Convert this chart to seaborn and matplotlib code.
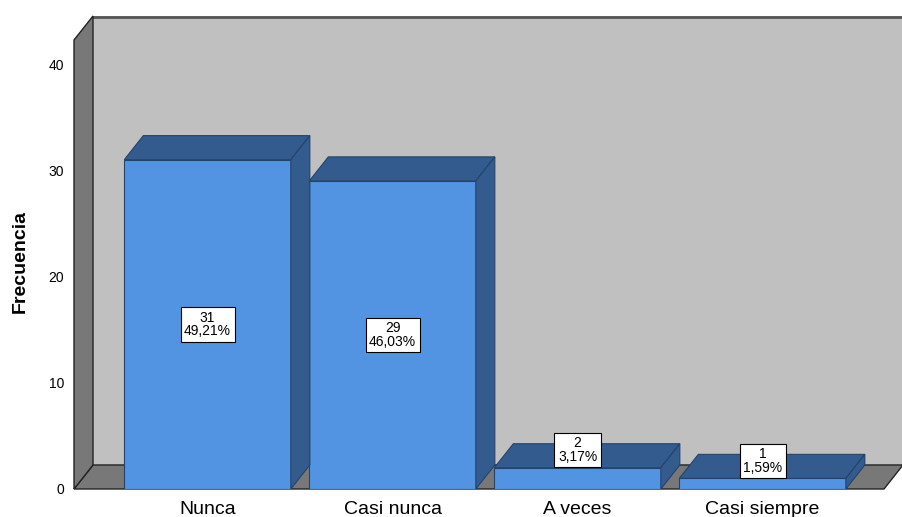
import matplotlib
matplotlib.use("Agg")
import matplotlib.pyplot as plt
import seaborn as sns
import pandas as pd

categories = ["Nunca", "Casi nunca", "A veces", "Casi siempre"]
counts = [31, 29, 2, 1]
percents = ["49,21%", "46,03%", "3,17%", "1,59%"]

sns.set_theme(style="white")
plt.rcParams["font.family"] = ["Liberation Sans", "DejaVu Sans"]

FRONT = "#5294E2"
DARK = "#335B8E"
EDGE = "#24436B"
WALL = "#787878"
BACK = "#C0C0C0"

fig = plt.figure(figsize=(9.03, 5.17), dpi=100)
ax = fig.add_axes([74 / 903, 28 / 517, 829 / 903, 473 / 517])

df = pd.DataFrame({"cat": categories, "n": counts})
sns.barplot(data=df, x="cat", y="n", color=FRONT, saturation=1, width=0.9,
            edgecolor=EDGE, linewidth=0.8, ax=ax, zorder=3)

# depth offsets of the pseudo-3D box (data units)
dx, dy = 0.1027, 2.26
x0, x1 = -0.722, 3.759
ytop = 44.52
ax.set_xlim(x0, x1)
ax.set_ylim(0, ytop)

# back wall, floor and left wall
ax.fill([x0 + dx, x1 + 0.5, x1 + 0.5, x0 + dx], [dy, dy, ytop, ytop],
        color=BACK, zorder=0, lw=0)
ax.plot([x0 + dx, x1 + 0.5], [ytop - 0.12, ytop - 0.12], color="#555555", lw=2, zorder=1, clip_on=False)
ax.fill([x0, x0 + dx, x1, x1 - dx], [0, dy, dy, 0], facecolor=WALL,
        edgecolor="#222222", lw=1, zorder=1, clip_on=False)
ax.fill([x0, x0 + dx, x0 + dx, x0], [0, dy, ytop, ytop - dy], facecolor=WALL,
        edgecolor="#222222", lw=1, zorder=1, clip_on=False)

# top and side faces of each bar, plus value labels
for i, p in enumerate(ax.patches[:len(counts)]):
    bx, w, h = p.get_x(), p.get_width(), p.get_height()
    ax.fill([bx, bx + dx, bx + w + dx, bx + w], [h, h + dy, h + dy, h],
            facecolor=DARK, edgecolor=EDGE, lw=0.8, zorder=4)
    ax.fill([bx + w, bx + w + dx, bx + w + dx, bx + w], [0, dy, h + dy, h],
            facecolor=DARK, edgecolor=EDGE, lw=0.8, zorder=4)
    ly = h / 2 if h / 2 > 3 else h + 1.65
    ax.text(bx + w / 2, ly, f"{counts[i]}\n{percents[i]}", ha="center", va="center",
            fontsize=10, linespacing=0.95, color="black", zorder=6,
            bbox=dict(boxstyle="square,pad=0.25", facecolor="white", edgecolor="black", lw=0.8))

ax.set_yticks([0, 10, 20, 30, 40])
ax.tick_params(axis="y", length=0, pad=7, labelsize=10, colors="black")
ax.tick_params(axis="x", length=0, pad=9, labelsize=14, colors="black")
ax.set_xlabel("")
ax.set_ylabel("Frecuencia", fontsize=14, fontweight="bold", color="black")
ax.yaxis.set_label_coords(-0.054, 0.48)
for s in ax.spines.values():
    s.set_visible(False)

fig.savefig("out.png", dpi=100)
